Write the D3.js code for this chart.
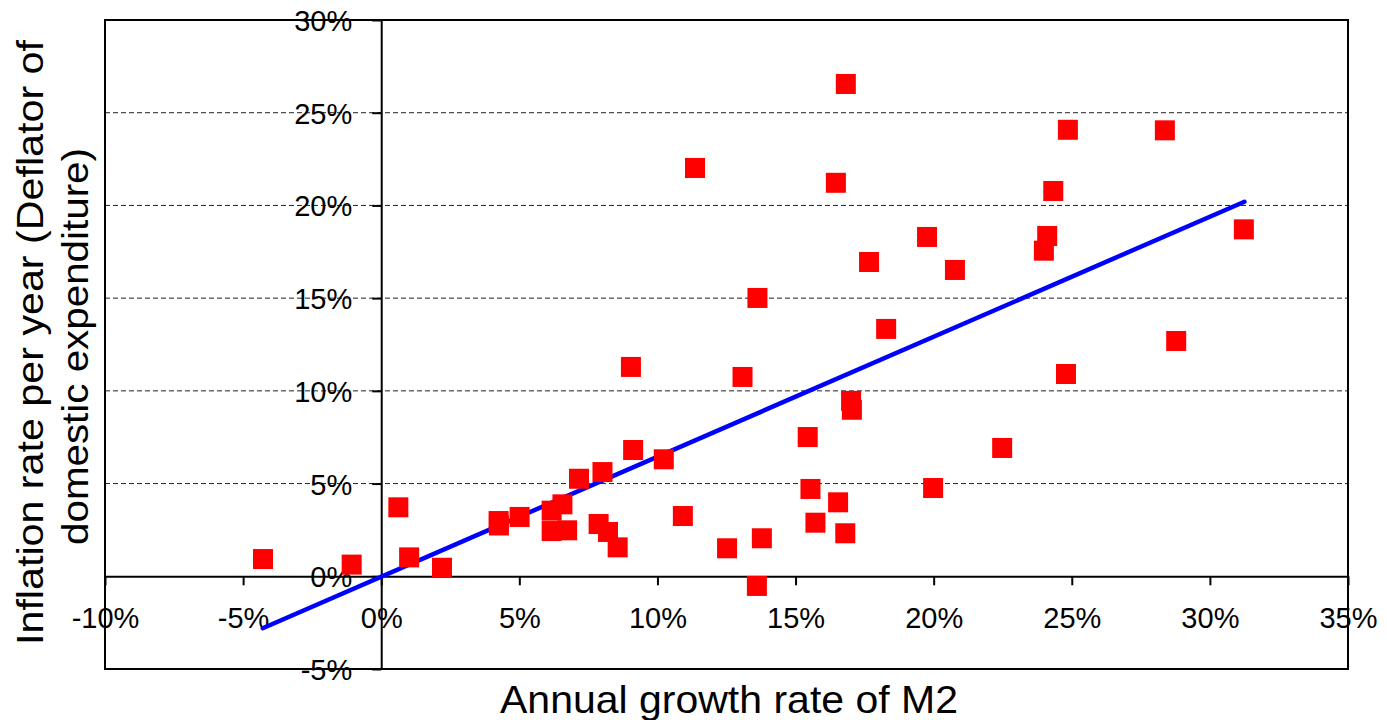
<!DOCTYPE html>
<html>
<head>
<meta charset="utf-8">
<script src="https://cdn.jsdelivr.net/npm/d3@7"></script>
<style>
  html, body { margin: 0; padding: 0; background: #fff; }
  svg { display: block; }
</style>
</head>
<body>
<svg id="chart" width="1387" height="720"></svg>
<script>
// ---- data (percent) ----
const m2Growth = [
  -4.28, -1.07, 0.62, 1.01, 2.20, 4.25, 4.26, 5.01, 6.56, 6.17,
  6.17, 6.73, 7.16, 8.01, 9.12, 10.23, 7.87, 8.21, 8.56, 10.92,
  12.52, 13.78, 13.60, 15.54, 15.72, 16.54, 16.80, 15.44, 11.36, 13.08,
  13.62, 9.04, 16.82, 16.46, 17.66, 17.01, 17.04, 18.28, 19.76, 20.77,
  19.98, 22.48, 23.99, 24.11, 24.33, 24.86, 24.79, 28.37, 28.78, 31.23
];
const inflation = [
  0.93, 0.63, 3.72, 1.02, 0.46, 2.98, 2.74, 3.20, 3.88, 3.54,
  2.44, 2.48, 5.26, 5.62, 6.81, 6.31, 2.82, 2.39, 1.56, 3.25,
  1.51, 2.05, -0.52, 4.71, 2.89, 3.99, 2.32, 7.51, 22.02, 10.75,
  15.01, 11.29, 26.55, 21.22, 16.95, 9.46, 8.98, 13.34, 18.30, 16.52,
  4.76, 6.92, 17.56, 18.35, 20.78, 24.08, 10.91, 24.05, 12.69, 18.71
];
const trendX = [-4.29, 31.25];
const trendY = [-2.8, 20.2];
const xTicks = [-10, -5, 0, 5, 10, 15, 20, 25, 30, 35];
const yTicks = [-5, 0, 5, 10, 15, 20, 25, 30];
const gridTicks = [5, 10, 15, 20, 25];
const xTitle = "Annual growth rate of M2";
const yTitleLines = ["Inflation rate per year (Deflator of", "domestic expenditure)"];

// ---- layout ----
const svg = d3.select("#chart");
const L = 105, R = 1348, T = 20, B = 669;
const x = d3.scaleLinear().domain([-10, 35]).range([L, R]);
const y = d3.scaleLinear().domain([-5, 30]).range([B, T]);
const fmt = d => d + "%";
const tickFont = "'Liberation Sans', Arial, sans-serif";

// gridlines
svg.append("g").selectAll("line").data(gridTicks).join("line")
  .attr("x1", L).attr("x2", R)
  .attr("y1", d => y(d)).attr("y2", d => y(d))
  .attr("stroke", "#222").attr("stroke-width", 1)
  .attr("stroke-dasharray", "5,3");

// plot border
svg.append("rect")
  .attr("x", L).attr("y", T).attr("width", R - L).attr("height", B - T)
  .attr("fill", "none").attr("stroke", "#000").attr("stroke-width", 2);

// x axis at y=0
const gx = svg.append("g")
  .attr("transform", `translate(0,${y(0)})`)
  .call(d3.axisBottom(x).tickValues(xTicks).tickFormat(fmt).tickSize(9).tickSizeOuter(0));
gx.select(".domain").attr("stroke", "#000").attr("stroke-width", 2);
gx.selectAll(".tick line").attr("stroke", "#000").attr("stroke-width", 2);
gx.selectAll(".tick text")
  .attr("y", 51.5).attr("dy", 0)
  .attr("font-family", tickFont).attr("font-size", 29).attr("fill", "#000");

// y axis at x=0
const gy = svg.append("g")
  .attr("transform", `translate(${x(0)},0)`)
  .call(d3.axisLeft(y).tickValues(yTicks).tickFormat(fmt).tickSize(9).tickSizeOuter(0));
gy.select(".domain").attr("stroke", "#000").attr("stroke-width", 2);
gy.selectAll(".tick line").attr("stroke", "#000").attr("stroke-width", 2);
gy.selectAll(".tick text")
  .attr("x", -29).attr("dy", "0.36em")
  .attr("font-family", tickFont).attr("font-size", 29).attr("fill", "#000");

// trendline
svg.append("path")
  .datum(trendX.map((d, i) => [d, trendY[i]]))
  .attr("d", d3.line().x(d => x(d[0])).y(d => y(d[1])))
  .attr("fill", "none").attr("stroke", "#0000ff").attr("stroke-width", 4.5)
  .attr("stroke-linecap", "round");

// points
const S = 20;
svg.append("g").selectAll("rect").data(m2Growth.map((d, i) => [d, inflation[i]])).join("rect")
  .attr("x", d => x(d[0]) - S / 2).attr("y", d => y(d[1]) - S / 2)
  .attr("width", S).attr("height", S)
  .attr("fill", "#ff0000");

// x title
svg.append("text")
  .attr("x", 729).attr("y", 713)
  .attr("text-anchor", "middle")
  .attr("font-family", tickFont).attr("font-size", 39)
  .attr("textLength", 458).attr("lengthAdjust", "spacingAndGlyphs")
  .attr("fill", "#000")
  .text(xTitle);

// y title
const yt = svg.append("g").attr("transform", "translate(0,344.5) rotate(-90)");
const yLens = [605, 397];
const yOff = [2, -2];
const yBase = [43, 88];
yTitleLines.forEach((t, i) => {
  yt.append("text")
    .attr("x", yOff[i]).attr("y", yBase[i])
    .attr("text-anchor", "middle")
    .attr("font-family", tickFont).attr("font-size", 36)
    .attr("textLength", yLens[i]).attr("lengthAdjust", "spacingAndGlyphs")
    .attr("fill", "#000")
    .text(t);
});
</script>
</body>
</html>
